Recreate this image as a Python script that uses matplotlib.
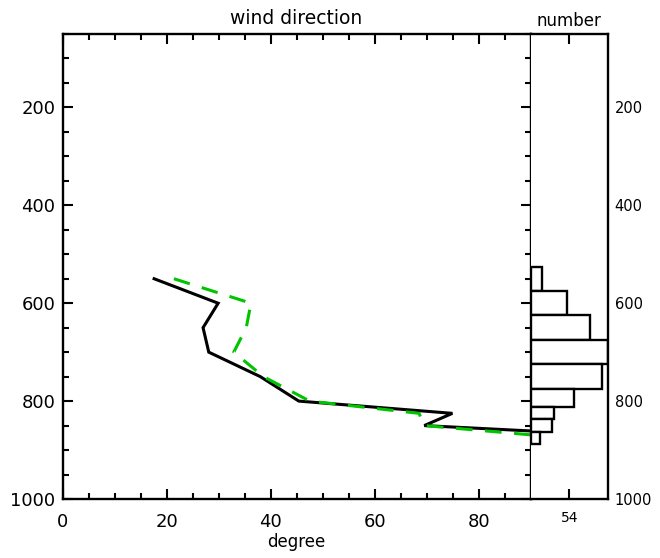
import matplotlib
matplotlib.use("Agg")
import matplotlib.pyplot as plt
from matplotlib.ticker import MultipleLocator, FixedLocator
import numpy as np

# ---- data ----
levels = [550, 600, 650, 700, 750, 800, 825, 850, 875]
wind_black = [17.6, 29.9, 27.0, 28.1, 38.0, 45.4, 74.9, 69.5, 116.0]
wind_green = [21.4, 36.2, 35.3, 32.9, 38.6, 47.5, 68.5, 69.5, 96.5]
bin_edges = [525, 575, 625, 675, 725, 775, 812.5, 837.5, 862.5, 887.5]
counts = [16, 50, 83, 108, 100, 60, 32, 30, 13]
y_ticks = [200, 400, 600, 800, 1000]
x_ticks = [0, 20, 40, 60, 80]
hist_tick = [54]

plt.rcParams['font.family'] = ['DejaVu Sans']
plt.rcParams['xtick.direction'] = 'in'
plt.rcParams['ytick.direction'] = 'in'

W, H = 660, 558
fig = plt.figure(figsize=(W / 100, H / 100), dpi=100)

left, right_main, right_hist = 62.5, 531.0, 607.7
top, bottom = 34.0, 499.0
ax = fig.add_axes([left / W, (H - bottom) / H, (right_main - left) / W, (bottom - top) / H])
axh = fig.add_axes([right_main / W, (H - bottom) / H, (right_hist - right_main) / W, (bottom - top) / H])

lw = 2.2
ax.plot(wind_black, levels, color='black', lw=lw, solid_joinstyle='miter')
ax.plot(wind_green, levels, color='#00C400', lw=lw,
        linestyle=(0, (12.0 / lw, 9.0 / lw)), dash_capstyle='butt')

ax.set_xlim(0, 90)
ax.set_ylim(1000, 50)
ax.xaxis.set_major_locator(FixedLocator(x_ticks))
ax.xaxis.set_minor_locator(MultipleLocator(5))
ax.yaxis.set_major_locator(FixedLocator(y_ticks))
ax.yaxis.set_minor_locator(MultipleLocator(50))
ax.tick_params(axis='x', which='major', direction='in', length=7, width=1.5,
               top=True, bottom=True, labelsize=13, pad=10)
ax.tick_params(axis='y', which='major', direction='in', length=7, width=1.5,
               left=True, right=True, labelsize=13, pad=5)
ax.tick_params(axis='both', which='minor', direction='in', length=4.5, width=1.5,
               top=True, bottom=True, left=True, right=True)
for s in ax.spines.values():
    s.set_linewidth(1.7)

# histogram panel
centers = [(bin_edges[i] + bin_edges[i + 1]) / 2 for i in range(len(counts))]
heights = [bin_edges[i + 1] - bin_edges[i] for i in range(len(counts))]
axh.barh(centers, counts, height=heights, left=0, color='white',
         edgecolor='black', linewidth=1.7)
axh.set_xlim(0, max(counts))
axh.set_ylim(1000, 50)
axh.xaxis.set_major_locator(FixedLocator(hist_tick))
axh.tick_params(axis='x', which='major', direction='in', length=7, width=1.5,
                top=True, bottom=True, labelsize=10, pad=9)
axh.yaxis.set_major_locator(FixedLocator(y_ticks))
axh.tick_params(axis='y', which='major', length=0, left=False, right=False,
                labelleft=False, labelright=True, labelsize=10.5, pad=5)
axh.tick_params(axis='both', which='minor', length=0)
for s in axh.spines.values():
    s.set_linewidth(1.7)
axh.spines['left'].set_visible(False)

fig.text(296 / W, 1 - 18 / H, 'wind direction', ha='center', va='center', fontsize=13.5)
fig.text(569 / W, 1 - 21 / H, 'number', ha='center', va='center', fontsize=12)
fig.text(296 / W, 1 - 542 / H, 'degree', ha='center', va='center', fontsize=12)

fig.savefig('out.png', dpi=100)
